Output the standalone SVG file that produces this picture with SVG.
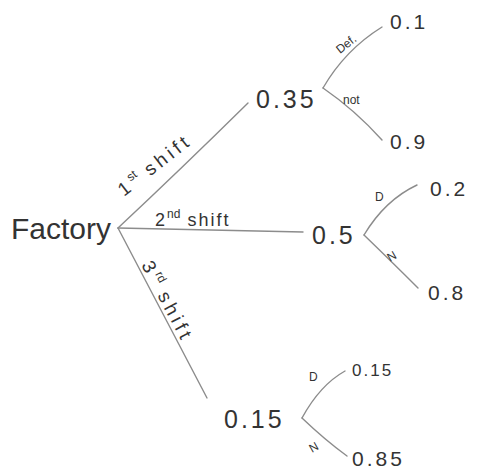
<svg xmlns="http://www.w3.org/2000/svg" width="480" height="473" viewBox="0 0 480 473">
<style>
.bg{fill:#ffffff}
.e{fill:none;stroke:#8c8c8c;stroke-width:1.4;stroke-linecap:round}
.t{font-family:"Liberation Sans","DejaVu Sans",sans-serif;fill:#333333}
.big{font-size:30px}
.mid{font-size:25px;letter-spacing:3px}
.leaf{font-size:21px;letter-spacing:3px}
.lab{font-size:18px;letter-spacing:2px}
.lab2{font-size:19px;letter-spacing:4px}
.sm{font-size:12px;letter-spacing:0}
</style>
<rect class="bg" x="0" y="0" width="480" height="473"/>
<g id="connectors">
<path class="e" d="M118,228 Q180,170 248,103"/>
<path class="e" d="M118,228 L303,232"/>
<path class="e" d="M118,228 L207,398"/>
<path class="e" d="M323,88 Q345,50 382,27"/>
<path class="e" d="M323,88 Q355,110 382,140"/>
<path class="e" d="M364,235 Q385,200 417,185"/>
<path class="e" d="M364,235 Q395,265 418,288"/>
<path class="e" d="M302,418 Q320,385 345,371"/>
<path class="e" d="M302,418 Q325,440 347,456"/>
<text class="t lab2" transform="translate(124,197) rotate(-38)">1<tspan class="sm" dy="-8">st</tspan><tspan dy="8"> shift</tspan></text>
<text class="t lab" x="155" y="226">2<tspan class="sm" dy="-8">nd</tspan><tspan dy="8">  shift</tspan></text>
<text class="t lab2" transform="translate(141,265) rotate(62)">3<tspan class="sm" dy="-8">rd</tspan><tspan dy="8"> shift</tspan></text>
<text class="t sm" transform="translate(340,54) rotate(-38)">Def.</text>
<text class="t sm" x="343" y="104">not</text>
<text class="t sm" x="375" y="201">D</text>
<text class="t sm" transform="translate(390,262) rotate(-30)">N</text>
<text class="t sm" x="309" y="381">D</text>
<text class="t sm" transform="translate(312,453) rotate(-30)">N</text>
</g>
<g id="factory"><text class="t big" x="11" y="239">Factory</text></g>
<g id="n035"><text class="t mid" x="256" y="108">0.35</text></g>
<g id="n05"><text class="t mid" x="312" y="244">0.5</text></g>
<g id="n015"><text class="t mid" x="224" y="428">0.15</text></g>
<g id="l01"><text class="t leaf" x="390" y="29">0.1</text></g>
<g id="l09"><text class="t leaf" x="390" y="149">0.9</text></g>
<g id="l02"><text class="t leaf" x="430" y="196">0.2</text></g>
<g id="l08"><text class="t leaf" x="428" y="300">0.8</text></g>
<g id="l015"><text class="t leaf" x="352" y="376" style="font-size:17px;letter-spacing:2px">0.15</text></g>
<g id="l085"><text class="t leaf" x="352" y="466">0.85</text></g>
</svg>
